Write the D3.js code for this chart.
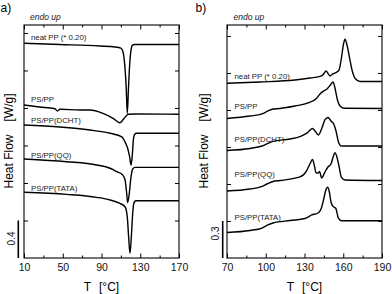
<!DOCTYPE html>
<html>
<head>
<meta charset="utf-8">
<script src="https://cdn.jsdelivr.net/npm/d3@7"></script>
<style>
  html, body { margin: 0; padding: 0; background: #fff; }
  svg { display: block; font-family: "Liberation Sans", Arial, sans-serif; }
</style>
</head>
<body>
<div id="chart"></div>
<script>
// curve names, same order in both panels
const seriesNames = ["neat PP (* 0.20)", "PS/PP", "PS/PP(DCHT)", "PS/PP(QQ)", "PS/PP(TATA)"];

// panel a: cooling, [T in °C, heat flow in W/g incl. stacking offset]
const coolNeatPP = [[10, 2.290], [47, 2.277], [88, 2.261], [104, 2.251], [110, 2.238], [112, 2.205],
  [114, 2.06], [115.5, 1.82], [116.6, 1.54], [117.8, 1.80], [119, 2.05], [120.5, 2.22], [122, 2.27],
  [124, 2.277], [170, 2.277]];
const coolPSPP = [[10, 1.632], [26, 1.611], [42, 1.592], [44.5, 1.568], [47, 1.586], [68, 1.579],
  [78, 1.579], [91.5, 1.543], [102, 1.490], [109, 1.443], [113.2, 1.488], [117.7, 1.533],
  [124.6, 1.536], [170, 1.533]];
const coolDCHT = [[10, 1.419], [47, 1.397], [78, 1.365], [99, 1.330], [111, 1.291], [114.3, 1.237],
  [117, 1.17], [119, 1.08], [120.5, 0.992], [121.8, 1.10], [123, 1.27], [124.3, 1.320], [126, 1.330],
  [170, 1.330]];
const coolQQ = [[10, 1.056], [54, 1.027], [85, 0.992], [98.8, 0.957], [105.7, 0.921], [111.9, 0.885],
  [114.3, 0.832], [116, 0.690], [117, 0.590], [118.7, 0.690], [120.5, 0.867], [122.2, 0.949],
  [124.6, 0.967], [170, 0.967]];
const coolTATA = [[10, 0.701], [54, 0.679], [85, 0.647], [98.8, 0.619], [109, 0.583], [114.3, 0.547],
  [116.6, 0.441], [118, 0.227], [119.4, 0.050], [120.8, 0.227], [122.2, 0.477], [123.5, 0.590],
  [125.6, 0.611], [170, 0.611]];

// panel b: heating
const heatNeatPP = [[70, 1.417], [95.5, 1.427], [122.6, 1.443], [134.3, 1.459], [143.3, 1.476],
  [145.1, 1.496], [146.6, 1.516], [148.2, 1.496], [149.7, 1.476], [152, 1.492], [154.4, 1.504],
  [156.7, 1.524], [158.6, 1.622], [160.2, 1.735], [161.4, 1.773], [162.9, 1.727], [165.2, 1.605],
  [167.2, 1.508], [169.1, 1.457], [173, 1.431], [190, 1.431]];
const heatPSPP = [[70, 1.131], [87.8, 1.151], [97.1, 1.168], [101.7, 1.192], [105.6, 1.208],
  [111, 1.212], [122.6, 1.232], [132.9, 1.257], [139.4, 1.295], [142, 1.330], [144.3, 1.350],
  [147.4, 1.370], [150.1, 1.403], [152.1, 1.427], [153.6, 1.378], [155.5, 1.281], [157.5, 1.232],
  [160.6, 1.214], [190, 1.212]];
const heatDCHT = [[70, 0.872], [87.8, 0.888], [97.1, 0.908], [101.7, 0.930], [105.6, 0.945],
  [118.8, 0.965], [126.5, 0.984], [132, 1.014], [136.2, 1.050], [138.1, 1.030], [140.8, 0.997],
  [143.5, 1.054], [145.8, 1.119], [148.2, 1.139], [150.5, 1.111], [152.8, 1.082], [154.4, 1.030],
  [156.3, 0.941], [158.6, 0.908], [190, 0.908]];
const heatQQ = [[70, 0.543], [87.8, 0.559], [97.1, 0.580], [101.7, 0.604], [105.6, 0.620],
  [111, 0.628], [126.5, 0.657], [131.5, 0.705], [134.2, 0.762], [136.2, 0.799], [137.7, 0.746],
  [138.9, 0.693], [140.5, 0.689], [141.6, 0.701], [143.3, 0.649], [145.8, 0.697], [148.2, 0.738],
  [150.5, 0.762], [152.4, 0.827], [153.6, 0.854], [155.1, 0.819], [156.7, 0.746], [158.6, 0.653],
  [161.4, 0.632], [190, 0.628]];
const heatTATA = [[70, 0.207], [87.8, 0.223], [97.1, 0.243], [101.7, 0.268], [105.6, 0.284],
  [118.8, 0.304], [130.4, 0.320], [135.6, 0.349], [140.5, 0.365], [142.8, 0.397], [144.7, 0.470],
  [146.3, 0.543], [148, 0.573], [149.4, 0.527], [150.5, 0.454], [152.3, 0.416], [154.2, 0.403],
  [156.2, 0.324], [158.8, 0.302], [190, 0.302]];

// axis ticks
const ticksA = [10, 50, 90, 130, 170];
const minorTicksA = [30, 70, 110, 150];
const yTicksA = [0.4, 0.8, 1.2, 1.6, 2.0, 2.4];
const ticksB = [70, 100, 130, 160, 190];
const minorTicksB = [85, 115, 145, 175];
const yTicksB = [0.3, 0.6, 0.9, 1.2, 1.5, 1.8];
const scaleBarA = 0.4;
const scaleBarB = 0.3;

const W = 392, H = 294;
const plotTop = 25, plotBottom = 258;

const svg = d3.select("#chart").append("svg")
  .attr("width", W)
  .attr("height", H);

function drawPanel(p) {
  const x = d3.scaleLinear().domain(p.xDomain).range([p.left, p.right]);
  const y = d3.scaleLinear().domain([0, p.yMax]).range([plotBottom, plotTop]);
  const g = svg.append("g");

  // ticks, all pointing inward
  const styleAxis = sel => {
    sel.select(".domain").remove();
    sel.selectAll("line").attr("stroke", "#000").attr("stroke-width", 1);
    sel.selectAll("text").attr("font-size", 10.5).attr("fill", "#111")
      .attr("font-family", "'Liberation Sans', Arial, sans-serif");
  };
  g.append("g").attr("transform", `translate(0,${plotBottom})`)
    .call(d3.axisBottom(x).tickValues(p.ticks).tickSize(-4.5).tickPadding(6).tickFormat(d3.format("d")))
    .call(styleAxis);
  g.append("g").attr("transform", `translate(0,${plotBottom})`)
    .call(d3.axisBottom(x).tickValues(p.minor).tickSize(-2.5).tickFormat(""))
    .call(styleAxis);
  g.append("g").attr("transform", `translate(0,${plotTop})`)
    .call(d3.axisTop(x).tickValues(p.ticks).tickSize(-4.5).tickFormat(""))
    .call(styleAxis);
  g.append("g").attr("transform", `translate(0,${plotTop})`)
    .call(d3.axisTop(x).tickValues(p.minor).tickSize(-2.5).tickFormat(""))
    .call(styleAxis);
  g.append("g").attr("transform", `translate(${p.left},0)`)
    .call(d3.axisLeft(y).tickValues(p.yTicks).tickSize(-4).tickFormat(""))
    .call(styleAxis);
  g.append("g").attr("transform", `translate(${p.right},0)`)
    .call(d3.axisRight(y).tickValues(p.yTicks).tickSize(-4).tickFormat(""))
    .call(styleAxis);

  // frame
  g.append("rect")
    .attr("x", p.left).attr("y", plotTop)
    .attr("width", p.right - p.left).attr("height", plotBottom - plotTop)
    .attr("fill", "none").attr("stroke", "#000").attr("stroke-width", 1.1);

  // curves
  const line = d3.line()
    .x(d => x(d[0]))
    .y(d => y(d[1]))
    .curve(d3.curveMonotoneX);
  g.selectAll(".curve")
    .data(p.series)
    .enter()
    .append("path")
    .attr("class", "curve")
    .attr("d", line)
    .attr("fill", "none")
    .attr("stroke", "#000")
    .attr("stroke-width", 1.4)
    .attr("stroke-linejoin", "round");

  // curve labels
  g.selectAll(".curve-label")
    .data(seriesNames)
    .enter()
    .append("text")
    .attr("class", "curve-label")
    .attr("x", p.labelX)
    .attr("y", (d, i) => p.labelY[i])
    .attr("font-size", 7.8)
    .attr("fill", "#222")
    .text(d => d);

  // scale bar
  g.append("line")
    .attr("x1", p.barX).attr("x2", p.barX)
    .attr("y1", y(0)).attr("y2", y(p.bar))
    .attr("stroke", "#000").attr("stroke-width", 1.6);
  g.append("text")
    .attr("transform", `translate(${p.barTextX},${p.barTextY}) rotate(-90)`)
    .attr("text-anchor", "middle")
    .attr("dy", "0.35em")
    .attr("font-size", 10)
    .attr("fill", "#111")
    .text(p.bar.toFixed(1));

  // axis titles
  const cx = (p.left + p.right) / 2;
  g.append("text")
    .attr("x", cx - 14).attr("y", 291)
    .attr("text-anchor", "middle")
    .attr("font-size", 12)
    .text("T");
  g.append("text")
    .attr("x", cx - 2.5).attr("y", 291)
    .attr("font-size", 12)
    .text("[°C]");
  g.append("text")
    .attr("transform", `translate(${p.origin + 8.5},161.5) rotate(-90)`)
    .attr("text-anchor", "middle")
    .attr("dy", "0.35em")
    .attr("font-size", 12)
    .text("Heat Flow");
  g.append("text")
    .attr("transform", `translate(${p.origin + 8.5},107.5) rotate(-90)`)
    .attr("text-anchor", "middle")
    .attr("dy", "0.35em")
    .attr("font-size", 12)
    .text("[W/g]");

  // panel letter and note
  g.append("text")
    .attr("x", p.origin + 0.5).attr("y", 11.5)
    .attr("font-size", 12)
    .text(p.letter);
  g.append("text")
    .attr("x", p.noteX).attr("y", 19.5)
    .attr("font-size", 8.5)
    .attr("font-style", "italic")
    .attr("fill", "#222")
    .text("endo up");
}

drawPanel({
  letter: "a)", origin: 0, left: 24, right: 179,
  xDomain: [10, 170], yMax: 2.485,
  ticks: ticksA, minor: minorTicksA, yTicks: yTicksA,
  series: [coolNeatPP, coolPSPP, coolDCHT, coolQQ, coolTATA],
  labelX: 31, labelY: [40, 101.5, 123, 157.5, 191],
  bar: scaleBarA, barX: 18.3, barTextX: 11.5, barTextY: 238.5,
  noteX: 30
});

drawPanel({
  letter: "b)", origin: 195, left: 227, right: 382,
  xDomain: [70, 190], yMax: 1.889,
  ticks: ticksB, minor: minorTicksB, yTicks: yTicksB,
  series: [heatNeatPP, heatPSPP, heatDCHT, heatQQ, heatTATA],
  labelX: 234.5, labelY: [78.5, 109, 141.5, 177, 219.5],
  bar: scaleBarB, barX: 222.7, barTextX: 215, barTextY: 233.5,
  noteX: 233.5
});
</script>
</body>
</html>
